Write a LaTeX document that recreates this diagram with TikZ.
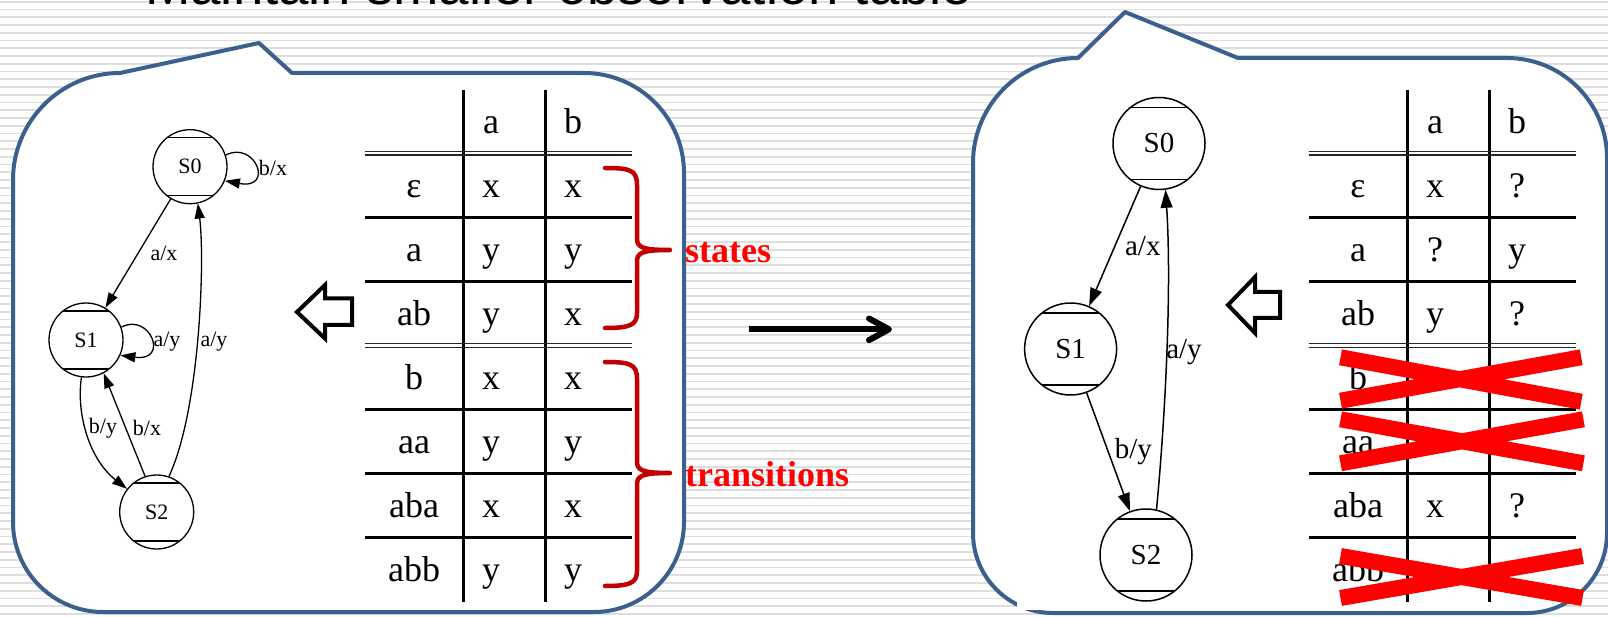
\documentclass[tikz,border=0pt]{standalone}
\usepackage{fontspec}
\setmainfont{Liberation Serif}
\newfontfamily\titlefont{Liberation Sans}
\usetikzlibrary{arrows.meta}
\definecolor{calloutblue}{RGB}{60,96,142}
\definecolor{stripegray}{RGB}{222,222,222}
\definecolor{bracered}{RGB}{192,0,0}
\definecolor{labelred}{RGB}{255,0,0}
\begin{document}
\begin{tikzpicture}[x=1pt,y=-1pt,
  stripe/.style={draw=stripegray, line width=1.8pt},
  box/.style={draw=calloutblue, line width=4pt, fill=white, line join=round},
  grid/.style={draw=black, line width=2.6pt},
  dbl/.style={draw=black!85, line width=1.2pt},
  cell/.style={font=\fontsize{36}{40}\selectfont, inner sep=0pt, anchor=base},
  lstate/.style={circle, draw, line width=1.3pt, minimum size=74pt, inner sep=0pt,
    font=\fontsize{22}{24}\selectfont,
    path picture={
      \draw[line width=1.3pt] ([yshift=-8pt]path picture bounding box.north west) -- ([yshift=-8pt]path picture bounding box.north east);
      \draw[line width=1.3pt] ([yshift=8pt]path picture bounding box.south west) -- ([yshift=8pt]path picture bounding box.south east);}},
  rstate/.style={circle, draw, line width=1.5pt, minimum size=92pt, inner sep=0pt,
    font=\fontsize{29}{31}\selectfont,
    path picture={
      \draw[line width=1.5pt] ([yshift=-10pt]path picture bounding box.north west) -- ([yshift=-10pt]path picture bounding box.north east);
      \draw[line width=1.5pt] ([yshift=10pt]path picture bounding box.south west) -- ([yshift=10pt]path picture bounding box.south east);}},
  edge/.style={line width=1.3pt, -{Triangle[length=15pt,width=10pt]}},
  redge/.style={line width=1.5pt, -{Triangle[length=18pt,width=12pt]}},
  elbl/.style={font=\fontsize{22}{24}\selectfont, inner sep=0pt},
  relbl/.style={font=\fontsize{29}{31}\selectfont, inner sep=0pt},
  brc/.style={draw=bracered, line width=4.5pt, line cap=round, line join=round},
  bracelbl/.style={text=labelred, font=\bfseries\fontsize{36}{40}\selectfont, anchor=base west, inner sep=0pt},
  hollow/.style={draw=black, fill=white, line width=4pt, line join=miter},
  cross/.style={draw=red, line width=16pt},
  thick arrow/.style={draw=black, line width=6pt}
]
\useasboundingbox (0,0) rectangle (1608,617);
\fill[white] (0,0) rectangle (1608,617);

% striped backdrop
\foreach \i in {0,...,79}
  \draw[stripe] (0,{1.7+7.75*\i}) -- (1608,{1.7+7.75*\i});

% heading, mostly above the page
\node[anchor=base west, inner sep=0pt, font=\titlefont\fontsize{54.5}{60}\selectfont] (title) at (145,4.5) {Maintain smaller observation table};

% ---------- left callout ----------
\draw[box] (259,43) -- (292,73) -- (584,73) arc[start angle=270, end angle=360, radius=100]
  -- (684,522) arc[start angle=0, end angle=90, radius=90]
  -- (103,612) arc[start angle=90, end angle=180, radius=90]
  -- (13,180) arc[start angle=180, end angle=270, radius=107] -- cycle;

% machine
\node[lstate] (S0) at (190,166.7) {S0};
\node[lstate] (S1) at (86,340) {S1};
\node[lstate] (S2) at (156.7,512) {S2};

\draw[edge] (S0.18) .. controls (255,140) and (275,190) .. (S0.-22);
\node[elbl] (l-bx0) at (273,168) {b/x};
\draw[edge] (S0) -- node[elbl, xshift=26pt] (l-ax) {a/x} (S1);
\draw[edge] (S2.71) .. controls (200,410) and (205,260) .. (S0.-78);
\node[elbl] (l-ay0) at (214,342) {a/y};
\draw[edge] (S1.20) .. controls (150,312) and (170,362) .. (S1.-24);
\node[elbl] (l-ay1) at (167,342) {a/y};
\draw[edge] (S1.-97) .. controls (76,415) and (90,460) .. (S2.142);
\node[elbl] (l-by) at (103,428) {b/y};
\draw[edge] (S2.108) -- (S1.-62);
\node[elbl] (l-bx1) at (147,428) {b/x};

% observation table
\draw[grid] (463.3,90) -- (463.3,602);
\draw[grid] (545.7,90) -- (545.7,602);
\foreach \y in {217.5,281.5,409.5,473.5,537.5}
  \draw[grid] (365,\y) -- (632,\y);
\foreach \y in {153.5,345.5} {
  \draw[dbl] (365,{\y-1.6}) -- (632,{\y-1.6});
  \draw[dbl] (365,{\y+1.6}) -- (632,{\y+1.6});
}
\node[cell] (L-h-a) at (491,133.5) {a};
\node[cell] (L-h-b) at (573,133.5) {b};
\foreach \r/\s/\a/\b in {0/ε/x/x,1/a/y/y,2/ab/y/x,3/b/x/x,4/aa/y/y,5/aba/x/x,6/abb/y/y} {
  \node[cell] (L-\r-s) at (414,{197.5+64*\r}) {\s};
  \node[cell] (L-\r-a) at (491,{197.5+64*\r}) {\a};
  \node[cell] (L-\r-b) at (573,{197.5+64*\r}) {\b};
}

% braces
\draw[brc] (605,168) .. controls (630,168) and (637,170) .. (637,185) -- (637,238)
  .. controls (637,247) and (641,250) .. (670,250)
  .. controls (641,250) and (637,253) .. (637,262) -- (637,313)
  .. controls (637,325) and (630,328) .. (605,328);
\draw[brc] (605,362) .. controls (630,362) and (637,364) .. (637,379) -- (637,461)
  .. controls (637,470) and (641,473) .. (670,473)
  .. controls (641,473) and (637,476) .. (637,485) -- (637,571)
  .. controls (637,583) and (630,586) .. (605,586);
\node[bracelbl] (states) at (685,262.7) {states};
\node[bracelbl] (transitions) at (685,486.7) {transitions};

% hollow arrow
\draw[hollow] (297,312) -- (325,285) -- (325,298.5) -- (352,298.5) -- (352,325) -- (325,325) -- (325,338.5) -- cycle;

% ---------- middle arrow ----------
\coordinate (m-start) at (749,329.3);
\coordinate (m-end) at (886,329.3);
\coordinate (m-tip) at (889,329.3);
\draw[thick arrow] (m-start) -- (m-end);
\draw[thick arrow, line cap=round, line join=round] (869,318.5) -- (m-tip) -- (869,340.1);

% ---------- right callout ----------
\draw[box] (1125,12) -- (1238,58) -- (1507,58) arc[start angle=270, end angle=360, radius=100]
  -- (1607,533) arc[start angle=0, end angle=90, radius=80]
  -- (1053,613) arc[start angle=90, end angle=180, radius=80]
  -- (973,163) arc[start angle=180, end angle=270, radius=105] -- cycle;
\fill[white] (1017,592) rectangle (1300,610.3);

\node[rstate] (T0) at (1159,143.5) {S0};
\node[rstate] (T1) at (1070.6,349) {S1};
\node[rstate] (T2) at (1146,555) {S2};

\draw[redge] (T0) -- node[relbl, xshift=28pt] (r-ax) {a/x} (T1);
\draw[redge] (T2.77) .. controls (1165,420) and (1172,290) .. (T0.-82);
\node[relbl] (r-ay) at (1184,352) {a/y};
\draw[redge] (T1) -- node[relbl, xshift=25pt] (r-by) {b/y} (T2);

\draw[grid] (1407.4,90) -- (1407.4,602);
\draw[grid] (1489.6,90) -- (1489.6,602);
\foreach \y in {217.5,281.5,409.5,473.5,537.5}
  \draw[grid] (1308.6,\y) -- (1576,\y);
\foreach \y in {153.5,345.5} {
  \draw[dbl] (1308.6,{\y-1.6}) -- (1576,{\y-1.6});
  \draw[dbl] (1308.6,{\y+1.6}) -- (1576,{\y+1.6});
}
\node[cell] (R-h-a) at (1435,133.5) {a};
\node[cell] (R-h-b) at (1517,133.5) {b};
\foreach \r/\s/\a/\b in {0/ε/x/?,1/a/?/y,2/ab/y/?,5/aba/x/?} {
  \node[cell] (R-\r-s) at (1358,{197.5+64*\r}) {\s};
  \node[cell] (R-\r-a) at (1435,{197.5+64*\r}) {\a};
  \node[cell] (R-\r-b) at (1517,{197.5+64*\r}) {\b};
}
\foreach \r/\s in {3/b,4/aa,6/abb}
  \node[cell] (R-\r-s) at (1358,{197.5+64*\r}) {\s};

\draw[hollow] (1228,305) -- (1255,277) -- (1255,292) -- (1280,292) -- (1280,318) -- (1255,318) -- (1255,333) -- cycle;

% struck-out rows
\draw[cross] (1340.5,357.3) -- (1581.2,401.7) (1340.5,400.7) -- (1581.2,357.3);
\draw[cross] (1340.5,419.3) -- (1583.4,463.3) (1340.5,463.3) -- (1583.4,419.3);
\draw[cross] (1340.5,556) -- (1582.5,598) (1340.5,598) -- (1582.5,556);
\end{tikzpicture}
\end{document}
